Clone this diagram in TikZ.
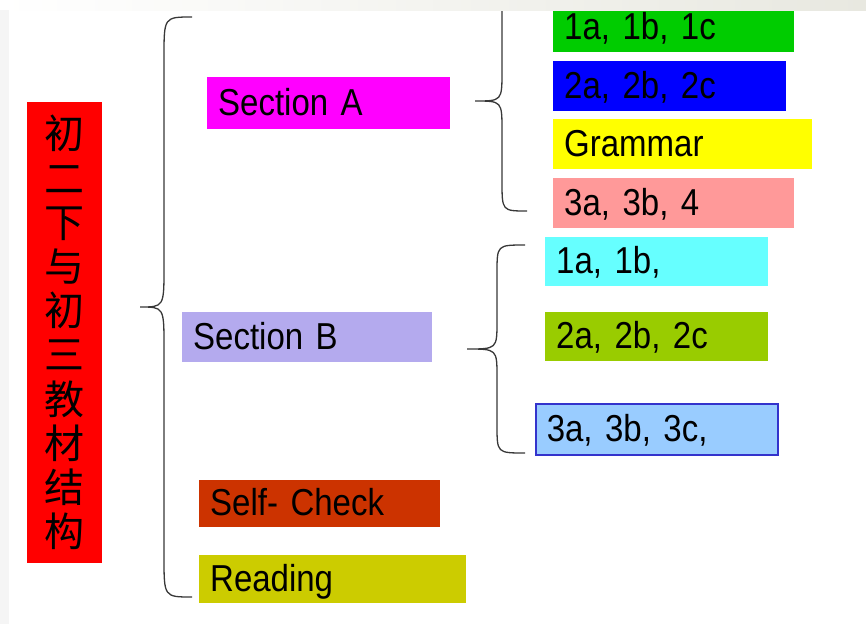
\documentclass[tikz,border=0pt]{standalone}
\usepackage{fontspec}
\setmainfont{Liberation Sans}
\newfontfamily\partfont[FakeStretch=0.88]{Liberation Sans}
\newfontfamily\cjk{Noto Sans CJK SC}
\usetikzlibrary{calc}
\def\curlybrace[#1](#2,#3,#4)(#5,#6,#7)(#8){\draw[#1] (#2,#5) .. controls (#3,#5) .. (#3,#5+#8) -- (#3,#6-#8) .. controls (#3,#6) .. (#4,#6) .. controls (#3,#6) .. (#3,#6+#8) -- (#3,#7-#8) .. controls (#3,#7) .. (#2,#7);}

\definecolor{titlered}{RGB}{255,0,0}
\definecolor{secApink}{RGB}{255,0,255}
\definecolor{secBlilac}{RGB}{180,170,238}
\definecolor{checkbrown}{RGB}{204,51,0}
\definecolor{readolive}{RGB}{204,204,0}
\definecolor{partgreen}{RGB}{0,204,0}
\definecolor{partblue}{RGB}{0,0,255}
\definecolor{partyellow}{RGB}{255,255,0}
\definecolor{partrose}{RGB}{255,153,153}
\definecolor{partcyan}{RGB}{102,255,255}
\definecolor{partlime}{RGB}{153,204,0}
\definecolor{partsky}{RGB}{153,204,255}
\definecolor{skyedge}{RGB}{51,51,204}
\definecolor{bandgray}{RGB}{232,232,224}

\tikzset{
	part/.style={anchor=north west, inner xsep=11pt, inner ysep=0pt, align=left,
		text height=30pt, text depth=6pt, font=\partfont\fontsize{37.5}{42}\selectfont, text=black},
	bracket/.style={line width=1.3pt, color=black!78},
}

\begin{document}
\begin{tikzpicture}[x=1pt, y=-1pt]
			%%%%% START %%%%%
			\useasboundingbox (0, 0) rectangle (866, 624);
			
			\node[anchor=north west, fill=titlered, minimum width=75pt, minimum height=461pt, inner sep=0pt, align=center,
				font=\cjk\fontsize{40}{44.2}\selectfont] (title) at (27, 102)
				{初\\二\\下\\与\\初\\三\\教\\材\\结\\构};
			
			\node[part, fill=secApink, text width=221pt, minimum height=52pt] (secA) at (207, 77) {Section A};
			\node[part, fill=secBlilac, text width=228pt, minimum height=50pt] (secB) at (182, 312) {Section B};
			\node[part, fill=checkbrown, text width=219pt, minimum height=47pt] (selfcheck) at (199, 480) {Self- Check};
			\node[part, fill=readolive, text width=245pt, minimum height=48pt] (reading) at (199, 555) {Reading};
			
			\node[part, fill=partgreen, text width=219pt, minimum height=50pt] (a1) at (553, 2) {1a, 1b, 1c};
			\node[part, fill=partblue, text width=211pt, minimum height=50pt] (a2) at (553, 61) {2a, 2b, 2c};
			\node[part, fill=partyellow, text width=237pt, minimum height=50pt] (a3) at (553, 119) {Grammar};
			\node[part, fill=partrose, text width=219pt, minimum height=50pt] (a4) at (553, 178) {3a, 3b, 4};
			
			\node[part, fill=partcyan, text width=201pt, minimum height=49pt] (b1) at (545, 237) {1a, 1b,};
			\node[part, fill=partlime, text width=201pt, minimum height=49pt] (b2) at (545, 312) {2a, 2b, 2c};
			\node[part, fill=partsky, draw=skyedge, line width=1.5pt, text width=220pt, minimum height=51pt] (b3) at (535, 403) {3a, 3b, 3c,};
			
			\curlybrace[bracket](192, 164, 140)(17, 307, 597)(40);
			\curlybrace[bracket](527, 502, 475)(-9, 101, 211)(30);
			\curlybrace[bracket](525, 497, 467)(245, 349, 453)(28);
			
			\shade[left color=white, right color=bandgray] (0, 0) rectangle (866, 10);
			\fill[black!4] (0, 10) rectangle (9, 624);
			
			%%%%% END %%%%%
\end{tikzpicture}
\end{document}
